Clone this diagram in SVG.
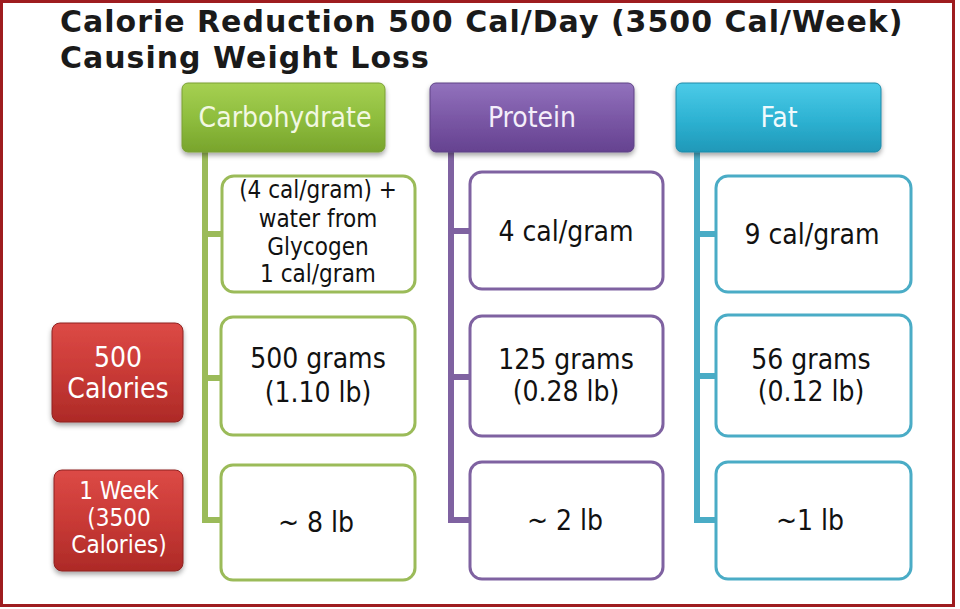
<svg xmlns="http://www.w3.org/2000/svg" width="960" height="609" viewBox="0 0 960 609">
<defs>
<linearGradient id="gGreen" x1="0" y1="0" x2="0" y2="1"><stop offset="0" stop-color="#a6d052"/><stop offset="0.5" stop-color="#8fbe3e"/><stop offset="1" stop-color="#78a42c"/></linearGradient>
<linearGradient id="gPurple" x1="0" y1="0" x2="0" y2="1"><stop offset="0" stop-color="#9272bd"/><stop offset="0.5" stop-color="#7b58a6"/><stop offset="1" stop-color="#654290"/></linearGradient>
<linearGradient id="gAqua" x1="0" y1="0" x2="0" y2="1"><stop offset="0" stop-color="#4ccbe8"/><stop offset="0.5" stop-color="#2fb4d4"/><stop offset="1" stop-color="#1f98b8"/></linearGradient>
<linearGradient id="gRed" x1="0" y1="0" x2="0" y2="1"><stop offset="0" stop-color="#dc4a46"/><stop offset="0.5" stop-color="#c93a36"/><stop offset="1" stop-color="#ad2a27"/></linearGradient>
<filter id="sh" x="-10%" y="-10%" width="120%" height="130%"><feDropShadow dx="0" dy="3" stdDeviation="2.5" flood-color="#000" flood-opacity="0.35"/></filter>
</defs>
<style>
.title{font-family:"DejaVu Sans","Verdana",sans-serif;font-weight:bold;font-size:30px;fill:#1a1a1a;letter-spacing:1px}
.hd{font-family:"DejaVu Sans Condensed","DejaVu Sans",sans-serif;font-stretch:condensed;font-size:28px;text-anchor:middle}
.bx{font-family:"DejaVu Sans Condensed","DejaVu Sans",sans-serif;font-stretch:condensed;font-size:28px;fill:#111;text-anchor:middle}
.sm{font-size:24px}
.rt{font-family:"DejaVu Sans Condensed","DejaVu Sans",sans-serif;font-stretch:condensed;fill:#fff;text-anchor:middle}
.child{fill:#fff;stroke-width:3}
.cg{stroke:#9bbb59}.cp{stroke:#7f62a1}.ca{stroke:#4aacc6}
.conn{fill:none;stroke-width:6;stroke-linejoin:miter}
</style>
<rect x="0" y="0" width="960" height="609" fill="#fff"/>
<rect x="1.5" y="1.5" width="952" height="604" fill="none" stroke="#9e1c1f" stroke-width="3"/>
<g id="title">
<text class="title" x="60" y="32">Calorie Reduction 500 Cal/Day (3500 Cal/Week)</text>
<text class="title" x="60" y="68">Causing Weight Loss</text>
</g>
<g id="connectors">
<path class="conn" stroke="#9bbb59" d="M205 152 V520 H222 M205 234 H222 M205 378 H222"/>
<path class="conn" stroke="#7f62a1" d="M451 152 V520 H470 M451 231 H470 M451 377 H470"/>
<path class="conn" stroke="#4aacc6" d="M697 152 V520 H716 M697 234 H716 M697 376 H716"/>
</g>
<g id="carbohydrate">
<rect x="182" y="83" width="203" height="69" rx="6" fill="url(#gGreen)" stroke="#7a9f35" stroke-width="1" filter="url(#sh)"/>
<text class="hd" x="285" y="127" fill="#f2f8e2">Carbohydrate</text>
</g>
<g id="protein">
<rect x="430" y="83" width="204" height="69" rx="6" fill="url(#gPurple)" stroke="#5e4285" stroke-width="1" filter="url(#sh)"/>
<text class="hd" x="532" y="127" fill="#f4eefa">Protein</text>
</g>
<g id="fat">
<rect x="676" y="83" width="205" height="69" rx="6" fill="url(#gAqua)" stroke="#1f8aa8" stroke-width="1" filter="url(#sh)"/>
<text class="hd" x="779" y="127" fill="#f0fafd">Fat</text>
</g>
<g id="carb-1">
<rect class="child cg" x="222" y="176" width="193" height="116" rx="12"/>
<text class="bx sm" x="318" y="198">(4 cal/gram) +</text>
<text class="bx sm" x="318" y="227">water from</text>
<text class="bx sm" x="318" y="255">Glycogen</text>
<text class="bx sm" x="318" y="282">1 cal/gram</text>
</g>
<g id="carb-2">
<rect class="child cg" x="221" y="317" width="194" height="118" rx="12"/>
<text class="bx" x="318" y="368">500 grams</text>
<text class="bx" x="318" y="402">(1.10 lb)</text>
</g>
<g id="carb-3">
<rect class="child cg" x="221" y="465" width="194" height="115" rx="12"/>
<text class="bx" x="316" y="532">~ 8 lb</text>
</g>
<g id="protein-1">
<rect class="child cp" x="470" y="172" width="193" height="117" rx="12"/>
<text class="bx" x="566" y="241">4 cal/gram</text>
</g>
<g id="protein-2">
<rect class="child cp" x="470" y="316" width="193" height="120" rx="12"/>
<text class="bx" x="566" y="369">125 grams</text>
<text class="bx" x="566" y="401">(0.28 lb)</text>
</g>
<g id="protein-3">
<rect class="child cp" x="470" y="462" width="193" height="117" rx="12"/>
<text class="bx" x="565" y="530">~ 2 lb</text>
</g>
<g id="fat-1">
<rect class="child ca" x="716" y="176" width="195" height="116" rx="12"/>
<text class="bx" x="812" y="244">9 cal/gram</text>
</g>
<g id="fat-2">
<rect class="child ca" x="716" y="315" width="195" height="121" rx="12"/>
<text class="bx" x="811" y="369">56 grams</text>
<text class="bx" x="811" y="401">(0.12 lb)</text>
</g>
<g id="fat-3">
<rect class="child ca" x="716" y="462" width="195" height="117" rx="12"/>
<text class="bx" x="810" y="530">~1 lb</text>
</g>
<g id="calories-500">
<rect x="52" y="323" width="131" height="99" rx="8" fill="url(#gRed)" stroke="#8e2220" stroke-width="1" filter="url(#sh)"/>
<text class="rt" x="118" y="367" font-size="28">500</text>
<text class="rt" x="118" y="398" font-size="28">Calories</text>
</g>
<g id="one-week">
<rect x="54" y="470" width="129" height="101" rx="8" fill="url(#gRed)" stroke="#8e2220" stroke-width="1" filter="url(#sh)"/>
<text class="rt" x="119" y="499" font-size="24">1 Week</text>
<text class="rt" x="119" y="526" font-size="24">(3500</text>
<text class="rt" x="119" y="553" font-size="24">Calories)</text>
</g>
</svg>
